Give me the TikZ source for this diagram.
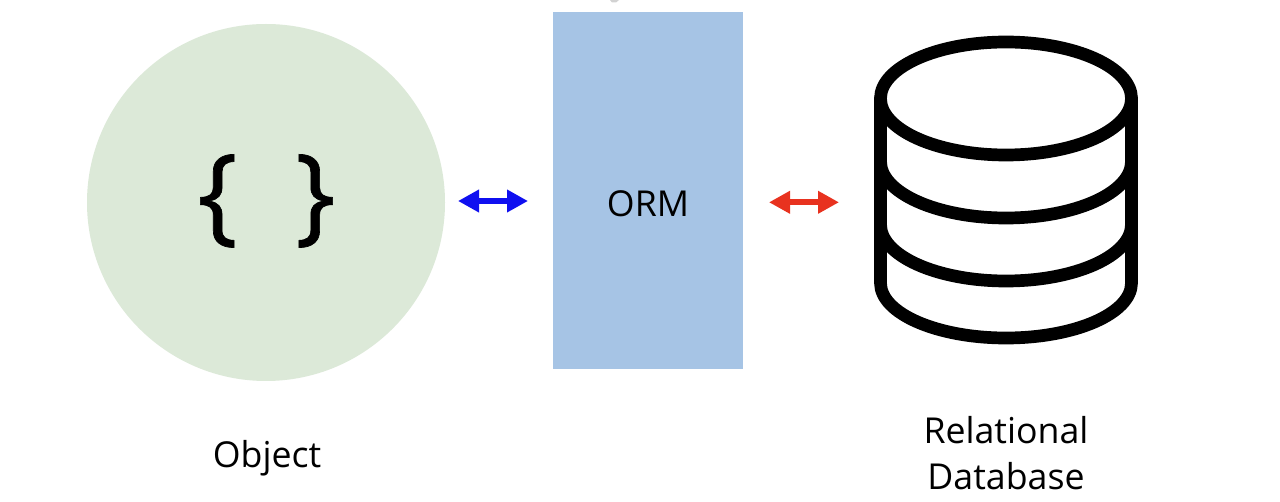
\documentclass[tikz,border=0pt]{standalone}
\usepackage{fontspec}
\setmainfont{Open Sans}
\newfontfamily\bracefont[FakeBold=0.6]{Open Sans}
\usetikzlibrary{arrows.meta,shapes.geometric}
\definecolor{objgreen}{HTML}{DCE9D8}
\definecolor{ormblue}{HTML}{A6C4E5}
\definecolor{arrowblue}{HTML}{0F0FF0}
\definecolor{arrowred}{HTML}{E8321F}
\tikzset{
  x=1pt,y=-1pt,
  label text/.style={font=\fontsize{35.7}{46}\selectfont,text=black,align=center,inner sep=0pt},
  brace text/.style={inner sep=0pt,font=\bracefont\fontsize{107}{107}\selectfont},
  dbline/.style={draw=black,line width=12.7pt,line cap=round,line join=round},
  double arrow/.style={line width=6.4pt,{Triangle[length=21pt,width=21.5pt]}-{Triangle[length=21pt,width=21.5pt]}},
}
\begin{document}
\begin{tikzpicture}
\useasboundingbox (0,0) rectangle (1280,502);
\fill[white] (0,0) rectangle (1280,502);
\fill[gray!35] (610,0) -- (619,0) -- (616,2.5) -- (612,2.5) -- cycle;
\node[fill=objgreen,ellipse,minimum width=358pt,minimum height=357pt,inner sep=0pt] (obj) at (266,202.5) {};
\node[fill=ormblue,minimum width=190pt,minimum height=357pt,inner sep=0pt] (orm) at (648,190.5) {};
\node[label text] (ormt) at (648,204) {ORM};
\node[brace text] (lbrace) at (217.5,201) {\{};
\node[brace text] (rbrace) at (315.5,201) {\}};
\coordinate (bl) at (458,201); \coordinate (br) at (528,201);
\coordinate (rl) at (769,202.3); \coordinate (rr) at (839,202.3);
\draw[double arrow,arrowblue] (bl) -- (br);
\draw[double arrow,arrowred] (rl) -- (rr);
% database
\draw[dbline] (880.5,98.5) -- (880.5,283) arc[start angle=180,end angle=0,x radius=125.5,y radius=55] -- (1131.5,98.5);
\draw[dbline] (1006,98.5) ellipse [x radius=125.5,y radius=56.5];
\draw[dbline] (880.5,161.5) arc[start angle=180,end angle=0,x radius=125.5,y radius=56.5];
\draw[dbline] (880.5,224.5) arc[start angle=180,end angle=0,x radius=125.5,y radius=56.5];
\node[label text] (objl) at (267,458) {Object};
\node[label text] (dbl) at (1006,453) {Relational\\Database};
\end{tikzpicture}
\end{document}
